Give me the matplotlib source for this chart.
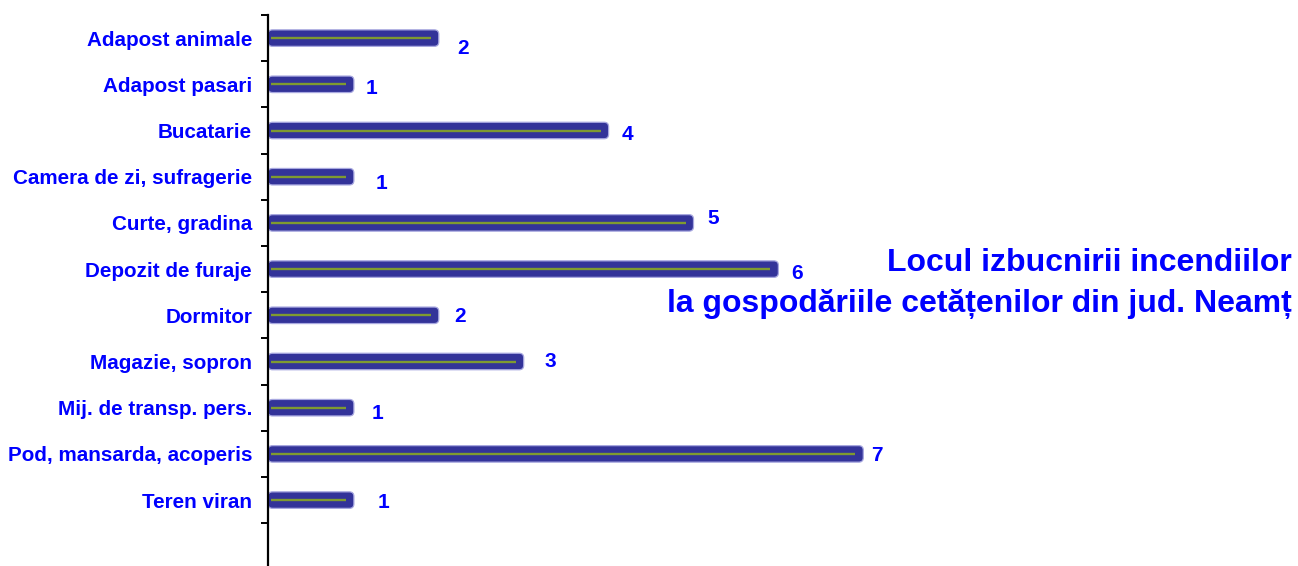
import matplotlib
matplotlib.use('Agg')
import matplotlib.pyplot as plt
from matplotlib.patches import FancyBboxPatch

plt.rcParams['font.family'] = ['Liberation Sans', 'DejaVu Sans']

# date
categorii = ['Adapost animale', 'Adapost pasari', 'Bucatarie',
             'Camera de zi, sufragerie', 'Curte, gradina', 'Depozit de furaje',
             'Dormitor', 'Magazie, sopron', 'Mij. de transp. pers.',
             'Pod, mansarda, acoperis', 'Teren viran']
valori = [2, 1, 4, 1, 5, 6, 2, 3, 1, 7, 1]
titlu = 'Locul izbucnirii incendiilor\nla gospodăriile cetățenilor din jud. Neamț'

# deplasari etichete (pixeli, x / y in jos) - ca in original
dx_lbl = [25, 19, 20, 29, 21, 20, 22, 28, 25, 15, 31]
dy_lbl = [10, 4, 4, 7, -4, 4, 1, 0, 6, 2, 2]

W, H, DPI = 1298, 566, 100
fig = plt.figure(figsize=(W / DPI, H / DPI), dpi=DPI)

ax_left, ax_top = 268, 15
xmax = 12
px_x = 84.9                      # pixeli pe unitate x
nrows = 12                       # 11 categorii + un spatiu gol jos
px_y = 46.2
ax = fig.add_axes([ax_left / W, (H - ax_top - nrows * px_y) / H,
                   xmax * px_x / W, nrows * px_y / H])
ax.set_xlim(0, xmax)
ax.set_ylim(nrows - 0.5, -0.5)

bar_h = 16.5 / px_y
aspect = px_x / px_y
for i, v in enumerate(valori):
    r = 4.5 / px_x
    p = FancyBboxPatch((0, i - bar_h / 2), v + 1 / px_x, bar_h,
                       boxstyle='round,pad=0,rounding_size=%f' % r,
                       mutation_aspect=aspect,
                       facecolor='#333399', edgecolor='#a8a8e0', linewidth=0.9,
                       zorder=2)
    ax.add_patch(p)
    ax.plot([3 / px_x, v - 7 / px_x], [i, i], color='#7f9a30', lw=1.7, zorder=3,
            solid_capstyle='butt')
    ax.annotate(str(v), (v, i), xytext=(dx_lbl[i] * 0.72, -dy_lbl[i] * 0.72),
                textcoords='offset points', ha='center', va='center',
                color='#0000ff', fontsize=15, fontweight='bold')

# axe
for s in ['top', 'right', 'bottom']:
    ax.spines[s].set_visible(False)
ax.spines['left'].set_linewidth(1.6)
ax.spines['left'].set_zorder(4)
ax.set_xticks([])
ax.set_yticks([k - 0.5 for k in range(nrows + 1)])
ax.set_yticklabels([])
ax.tick_params(axis='y', which='major', direction='out', length=5, width=1.4)
ax.set_yticks(range(len(categorii)), minor=True)
ax.set_yticklabels(categorii, minor=True, color='#0000ff', fontsize=14.9,
                   fontweight='bold')
ax.tick_params(axis='y', which='minor', length=0, pad=11.5)

fig.text(1292 / W, 1 - 283.5 / H, titlu, ha='right', va='center',
         multialignment='right', color='#0000ff', fontsize=23,
         fontweight='bold', linespacing=1.45)

fig.savefig('out.png', dpi=DPI)
